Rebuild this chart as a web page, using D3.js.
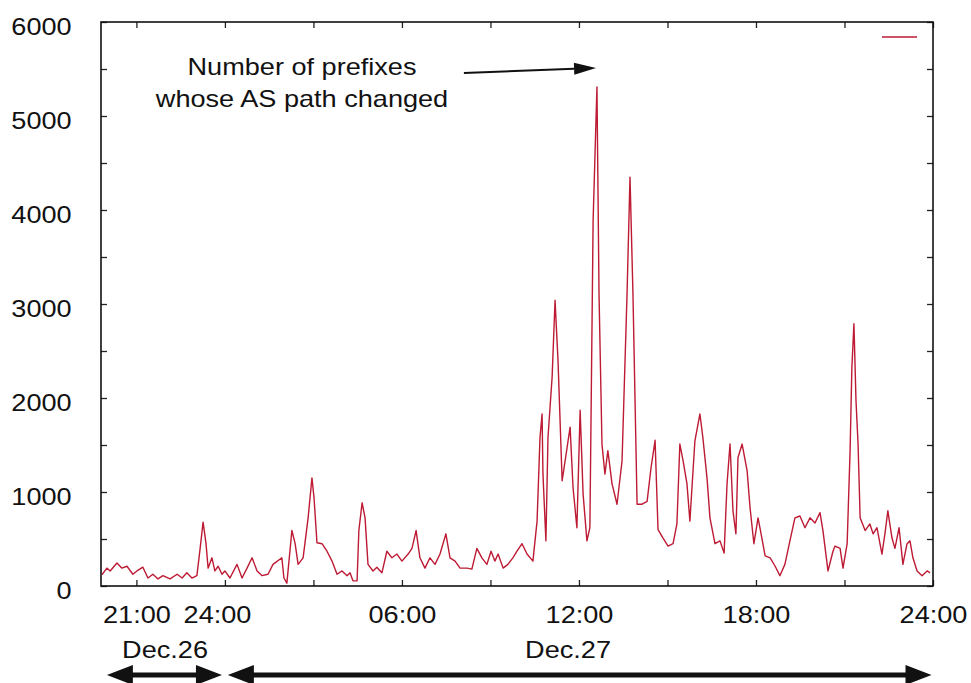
<!DOCTYPE html>
<html>
<head>
<meta charset="utf-8">
<script src="https://cdnjs.cloudflare.com/ajax/libs/d3/7.8.5/d3.min.js"></script>
<style>
body { margin: 0; background: #fff; }
text { font-family: "Liberation Sans", Arial, Helvetica, sans-serif; fill: #111; }
</style>
</head>
<body>
<div id="chart"></div>
<script>
// time in hours from Dec.26 00:00, number of prefixes whose AS path changed
var hours = [19.83, 20.00, 20.11, 20.34, 20.51, 20.68, 20.88, 21.02, 21.22, 21.39,
    21.56, 21.73, 21.90, 22.14, 22.38, 22.55, 22.71, 22.88, 23.05, 23.16,
    23.26, 23.36, 23.43, 23.56, 23.66, 23.77, 23.90, 24.00, 24.17, 24.41,
    24.58, 24.75, 24.92, 25.09, 25.26, 25.46, 25.63, 25.93, 26.00, 26.10,
    26.27, 26.38, 26.48, 26.65, 26.82, 26.95, 27.02, 27.12, 27.29, 27.46,
    27.63, 27.80, 27.97, 28.14, 28.24, 28.34, 28.48, 28.54, 28.65, 28.75,
    28.85, 29.02, 29.15, 29.32, 29.49, 29.66, 29.83, 30.00, 30.21, 30.34,
    30.48, 30.61, 30.78, 30.95, 31.12, 31.29, 31.49, 31.63, 31.80, 31.97,
    32.21, 32.37, 32.54, 32.71, 32.88, 33.02, 33.15, 33.26, 33.43, 33.59,
    33.76, 33.90, 34.07, 34.24, 34.44, 34.58, 34.68, 34.75, 34.78, 34.88,
    34.95, 35.09, 35.19, 35.29, 35.43, 35.53, 35.70, 35.80, 35.93, 36.04,
    36.14, 36.27, 36.37, 36.48, 36.61, 36.68, 36.78, 36.88, 36.98, 37.12,
    37.29, 37.46, 37.63, 37.73, 37.83, 37.97, 38.14, 38.31, 38.44, 38.58,
    38.68, 38.85, 39.02, 39.19, 39.32, 39.42, 39.53, 39.66, 39.76, 39.93,
    40.10, 40.20, 40.34, 40.44, 40.61, 40.78, 40.92, 41.02, 41.12, 41.22,
    41.32, 41.39, 41.53, 41.70, 41.80, 41.93, 42.07, 42.20, 42.31, 42.48,
    42.65, 42.81, 42.98, 43.15, 43.32, 43.49, 43.66, 43.83, 44.00, 44.17,
    44.27, 44.44, 44.61, 44.68, 44.85, 44.95, 45.09, 45.19, 45.25, 45.32,
    45.39, 45.46, 45.53, 45.70, 45.86, 45.97, 46.10, 46.27, 46.37, 46.47,
    46.61, 46.71, 46.85, 46.98, 47.12, 47.22, 47.32, 47.46, 47.63, 47.80,
    47.90];
var counts = [120, 190, 160, 245, 190, 210, 125, 160, 200, 85,
    125, 75, 110, 75, 125, 85, 140, 85, 110, 400,
    680, 450, 190, 300, 160, 210, 125, 160, 85, 230,
    85, 190, 300, 160, 110, 125, 230, 300, 85, 30,
    590, 450, 230, 300, 725, 1150, 940, 460, 450, 370,
    265, 125, 160, 110, 140, 55, 55, 590, 885, 725,
    230, 160, 200, 140, 370, 300, 340, 265, 340, 400,
    590, 300, 190, 300, 230, 340, 555, 300, 265, 190,
    190, 180, 400, 300, 230, 370, 265, 340, 190, 230,
    300, 370, 450, 340, 265, 690, 1580, 1830, 1190, 480,
    1580, 2220, 3040, 2400, 1120, 1330, 1690, 1045, 620, 1870,
    980, 480, 620, 3890, 5310, 3110, 1510, 1190, 1440, 1090,
    870, 1330, 3110, 4350, 3110, 870, 870, 900, 1250, 1550,
    600, 510, 425, 450, 660, 1510, 1330, 1090, 690, 1545,
    1830, 1580, 1150, 725, 450, 480, 350, 1090, 1510, 800,
    555, 1365, 1510, 1225, 830, 450, 725, 510, 320, 300,
    210, 110, 230, 480, 725, 745, 620, 725, 670, 780,
    590, 160, 370, 425, 400, 190, 450, 1440, 2320, 2790,
    1970, 1510, 725, 590, 660, 555, 620, 340, 555, 800,
    510, 400, 620, 230, 450, 480, 300, 160, 110, 160,
    140];

var xTicks = [21, 24, 27, 30, 33, 36, 39, 42, 45, 48];
var xLabelHours = [21, 24, 30, 36, 42, 48];
var yTicks = [0, 500, 1000, 1500, 2000, 2500, 3000, 3500, 4000, 4500, 5000, 5500, 6000];

var dayLabels = ["Dec.26", "Dec.27"];
var dayFrom = [20.0, 24.1];
var dayTo = [23.9, 47.95];
var dayLabelAt = [21.97, 35.63];

var noteLines = ["Number of prefixes", "whose AS path changed"];

var svgWidth = 971;
var svgHeight = 683;

var margin = {
    top: 22,
    right: 38,
    bottom: 97,
    left: 101
};

var width = svgWidth - margin.left - margin.right;
var height = svgHeight - margin.top - margin.bottom;

// the original lettering is a bit wider than Liberation Sans
var stretch = 1.13;

var svg = d3.select("#chart")
    .append("svg")
    .attr("width", svgWidth)
    .attr("height", svgHeight)
    .append("g")
    .attr("transform", `translate(${margin.left}, ${margin.top})`);

var x = d3.scaleLinear()
    .domain([19.8, 48])
    .range([0, width]);

var y = d3.scaleLinear()
    .domain([0, 6000])
    .range([height, 0]);

function hourLabel(h) {
    var hh = h % 24 === 0 ? 24 : h % 24;
    return (hh < 10 ? "0" : "") + hh + ":00";
}

function styleAxis(g) {
    g.select(".domain").remove();
    g.selectAll(".tick line").attr("stroke", "#222").attr("stroke-width", 1.3);
    g.selectAll(".tick text")
        .attr("font-size", "24px")
        .attr("font-family", "Liberation Sans, Arial, sans-serif")
        .attr("fill", "#111")
        .attr("transform", `scale(${stretch},1)`);
}

// x axis (bottom, with labels)
var xAxisG = svg.append("g")
    .attr("transform", `translate(0, ${height})`)
    .call(d3.axisBottom(x)
        .tickValues(xTicks)
        .tickSizeInner(-6)
        .tickSizeOuter(0)
        .tickPadding(20)
        .tickFormat(h => xLabelHours.indexOf(h) >= 0 ? hourLabel(h) : ""))
    .call(styleAxis);

// first 24:00 sits a little left of its tick
xAxisG.selectAll(".tick text").filter(d => d === 24).attr("dx", -7);

// top mirror ticks
svg.append("g")
    .call(d3.axisTop(x).tickValues(xTicks).tickSizeInner(-6).tickSizeOuter(0).tickFormat(""))
    .call(styleAxis);

// y axis
svg.append("g")
    .call(d3.axisLeft(y)
        .tickValues(yTicks)
        .tickSizeInner(-6)
        .tickSizeOuter(0)
        .tickPadding(26)
        .tickFormat(v => v % 1000 === 0 ? v : ""))
    .call(styleAxis)
    .selectAll(".tick text")
    .attr("dy", "0.5em");

// right mirror ticks
svg.append("g")
    .attr("transform", `translate(${width}, 0)`)
    .call(d3.axisRight(y).tickValues(yTicks).tickSizeInner(-6).tickSizeOuter(0).tickFormat(""))
    .call(styleAxis);

// frame
svg.append("rect")
    .attr("x", 0)
    .attr("y", 0)
    .attr("width", width)
    .attr("height", height)
    .attr("fill", "none")
    .attr("stroke", "#111")
    .attr("stroke-width", 1.6);

// the series
var line = d3.line()
    .x((d, i) => x(hours[i]))
    .y(d => y(d));

svg.append("path")
    .datum(counts)
    .attr("d", line)
    .attr("fill", "none")
    .attr("stroke", "#bd1a34")
    .attr("stroke-width", 1.4)
    .attr("stroke-linejoin", "round");

// legend sample (no title)
svg.append("line")
    .attr("x1", width - 51)
    .attr("x2", width - 16)
    .attr("y1", 15)
    .attr("y2", 15)
    .attr("stroke", "#bd1a34")
    .attr("stroke-width", 1.6);

// annotation text
svg.append("g")
    .attr("transform", `translate(201, 53) scale(${stretch},1)`)
    .selectAll("text")
    .data(noteLines)
    .enter()
    .append("text")
    .attr("x", 0)
    .attr("y", (d, i) => i * 32)
    .attr("text-anchor", "middle")
    .attr("font-size", "24px")
    .text(d => d);

function arrowHead(tipX, tipY, fromX, fromY, len, half) {
    var dx = tipX - fromX, dy = tipY - fromY;
    var l = Math.sqrt(dx * dx + dy * dy);
    var ux = dx / l, uy = dy / l;
    var bx = tipX - ux * len, by = tipY - uy * len;
    return [[tipX, tipY], [bx - uy * half, by + ux * half], [bx + uy * half, by - ux * half]];
}

// pointer to the biggest spike
var pStart = [x(32.1), 51];
var pTip = [x(36.58), 46];
var pHead = arrowHead(pTip[0], pTip[1], pStart[0], pStart[1], 22, 6);
svg.append("line")
    .attr("x1", pStart[0]).attr("y1", pStart[1])
    .attr("x2", (pHead[1][0] + pHead[2][0]) / 2).attr("y2", (pHead[1][1] + pHead[2][1]) / 2)
    .attr("stroke", "#111")
    .attr("stroke-width", 2);
svg.append("polygon")
    .attr("points", pHead.map(p => p.join(",")).join(" "))
    .attr("fill", "#111");

// day ranges under the axis
var arrowY = 653;
dayLabels.forEach(function (label, i) {
    var a = x(dayFrom[i]), b = x(dayTo[i]);
    var len = 26, half = 10;
    svg.append("line")
        .attr("x1", a + len - 2).attr("x2", b - len + 2)
        .attr("y1", arrowY).attr("y2", arrowY)
        .attr("stroke", "#111")
        .attr("stroke-width", 5);
    [arrowHead(a, arrowY, b, arrowY, len, half), arrowHead(b, arrowY, a, arrowY, len, half)]
        .forEach(function (h) {
            svg.append("polygon")
                .attr("points", h.map(p => p.join(",")).join(" "))
                .attr("fill", "#111");
        });
    svg.append("text")
        .attr("transform", `translate(${x(dayLabelAt[i])}, 636) scale(${stretch},1)`)
        .attr("text-anchor", "middle")
        .attr("font-size", "24px")
        .text(label);
});
</script>
</body>
</html>
